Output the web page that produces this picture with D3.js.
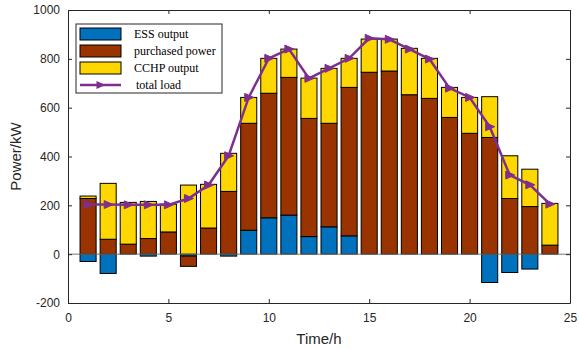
<!DOCTYPE html>
<head>
    <meta charset="utf-8">
    <style>
        body { margin: 0; background: #fff; }
        .axis text { font-family: "Liberation Sans", Arial, sans-serif; font-size: 12px; fill: #262626; }
        .axis path, .axis line { stroke: #262626; }
    </style>
</head>
<svg width="579" height="349" class="chart"></svg>
<script src="https://cdn.jsdelivr.net/npm/d3@7"></script>
<script>
    const hours = [1,2,3,4,5,6,7,8,9,10,11,12,13,14,15,16,17,18,19,20,21,22,23,24];
    const ess = [-30,-79,0,-8,0,-8,0,-8,98,149,160,72,112,75,0,0,0,0,0,0,-116,-75,-61,0];
    const purchased = [228,61,41,64,91,-42,107,257,438,510,564,484,424,608,745,750,653,638,560,495,478,228,195,37];
    const cchp = [10,229,171,152,114,283,179,156,106,143,116,165,225,119,136,131,190,164,123,147,167,175,153,171];
    const load = [203,203,202,202,202,228,283,403,642,802,840,720,761,802,884,880,840,799,680,642,522,324,284,205];
    const xTicks = [0,5,10,15,20,25];
    const yTicks = [-200,0,200,400,600,800,1000];
    const seriesNames = ["ESS output", "purchased power", "CCHP output", "total load"];
    const colors = ["#0072BD", "#993300", "#FFD700"];
    const lineColor = "#7E2F8E";

    var svg = d3.select(".chart"),
        margin = {top: 10, right: 9, bottom: 46, left: 68},
        width = +svg.attr("width") - margin.left - margin.right,
        height = +svg.attr("height") - margin.top - margin.bottom;

    var x = d3.scaleLinear().domain([0, 25]).range([0, width]),
        y = d3.scaleLinear().domain([-200, 1000]).range([height, 0]);

    var g = svg.append("g")
        .attr("transform", "translate(" + margin.left + "," + margin.top + ")");

    // stacked: positives go up, negatives go down, in series order
    var series = [ess, purchased, cchp];
    var stacks = [];
    hours.forEach(function(h, i) {
        var pos = 0, neg = 0;
        series.forEach(function(s, k) {
            var v = s[i];
            if (v >= 0) { stacks.push({h: h, k: k, y0: pos, y1: pos + v}); pos += v; }
            else { stacks.push({h: h, k: k, y0: neg + v, y1: neg}); neg += v; }
        });
    });

    var bw = 0.8;
    g.selectAll(".bar")
        .data(stacks.filter(function(d) { return d.y1 !== d.y0; }))
        .enter().append("rect")
        .attr("class", "bar")
        .attr("x", function(d) { return x(d.h - bw / 2); })
        .attr("width", x(bw) - x(0))
        .attr("y", function(d) { return y(d.y1); })
        .attr("height", function(d) { return y(d.y0) - y(d.y1); })
        .attr("fill", function(d) { return colors[d.k]; })
        .attr("stroke", "#000")
        .attr("stroke-width", 1);

    // baseline
    g.append("line")
        .attr("x1", 0).attr("x2", width)
        .attr("y1", y(0)).attr("y2", y(0))
        .attr("stroke", "#777").attr("stroke-width", 1);

    // total load line
    var line = d3.line()
        .x(function(d, i) { return x(hours[i]); })
        .y(function(d) { return y(d); });
    g.append("path")
        .datum(load)
        .attr("fill", "none")
        .attr("stroke", lineColor)
        .attr("stroke-width", 2.5)
        .attr("d", line);

    var tri = "M-4,-4L5,0L-4,4Z";
    g.selectAll(".mk")
        .data(load)
        .enter().append("path")
        .attr("class", "mk")
        .attr("d", tri)
        .attr("transform", function(d, i) { return "translate(" + x(hours[i]) + "," + y(d) + ")"; })
        .attr("fill", lineColor)
        .attr("stroke", lineColor);

    // axes (ticks inside, box)
    var fmt = function(d) { return String(d); };
    g.append("g")
        .attr("class", "axis")
        .attr("transform", "translate(0," + height + ")")
        .call(d3.axisBottom(x).tickValues(xTicks).tickFormat(fmt).tickSizeInner(-4).tickSizeOuter(0).tickPadding(10));
    g.append("g")
        .attr("class", "axis")
        .call(d3.axisLeft(y).tickValues(yTicks).tickFormat(fmt).tickSizeInner(-4).tickSizeOuter(0).tickPadding(8));
    g.append("g")
        .attr("class", "axis")
        .call(d3.axisTop(x).tickValues(xTicks).tickSizeInner(-4).tickSizeOuter(0).tickFormat(""));
    g.append("g")
        .attr("class", "axis")
        .attr("transform", "translate(" + width + ",0)")
        .call(d3.axisRight(y).tickValues(yTicks).tickSizeInner(-4).tickSizeOuter(0).tickFormat(""));

    svg.append("text")
        .attr("x", margin.left + width / 2)
        .attr("y", 344)
        .attr("text-anchor", "middle")
        .style("font-family", "Liberation Sans, Arial, sans-serif")
        .style("font-size", "15px")
        .attr("fill", "#262626")
        .text("Time/h");
    svg.append("text")
        .attr("transform", "translate(21," + (margin.top + y(400)) + ") rotate(-90)")
        .attr("text-anchor", "middle")
        .style("font-family", "Liberation Sans, Arial, sans-serif")
        .style("font-size", "15px")
        .attr("fill", "#262626")
        .text("Power/kW");

    // legend
    var lg = svg.append("g").attr("transform", "translate(76,24)");
    lg.append("rect")
        .attr("width", 146).attr("height", 69)
        .attr("fill", "#fff").attr("stroke", "#262626").attr("stroke-width", 1);
    seriesNames.forEach(function(name, i) {
        var cy = 10 + i * 17;
        if (i < 3) {
            lg.append("rect")
                .attr("x", 4).attr("y", cy - 6)
                .attr("width", 41).attr("height", 12)
                .attr("fill", colors[i]).attr("stroke", "#000");
        } else {
            lg.append("line")
                .attr("x1", 4).attr("x2", 45).attr("y1", cy).attr("y2", cy)
                .attr("stroke", lineColor).attr("stroke-width", 2.5);
            lg.append("path")
                .attr("d", tri)
                .attr("transform", "translate(24.5," + cy + ")")
                .attr("fill", lineColor);
        }
        lg.append("text")
            .attr("x", i < 3 ? 58 : 60).attr("y", cy + 4)
            .style("font-family", "Liberation Serif, Times New Roman, serif")
            .style("font-size", "12px")
            .attr("fill", "#000")
            .text(name);
    });
</script>
